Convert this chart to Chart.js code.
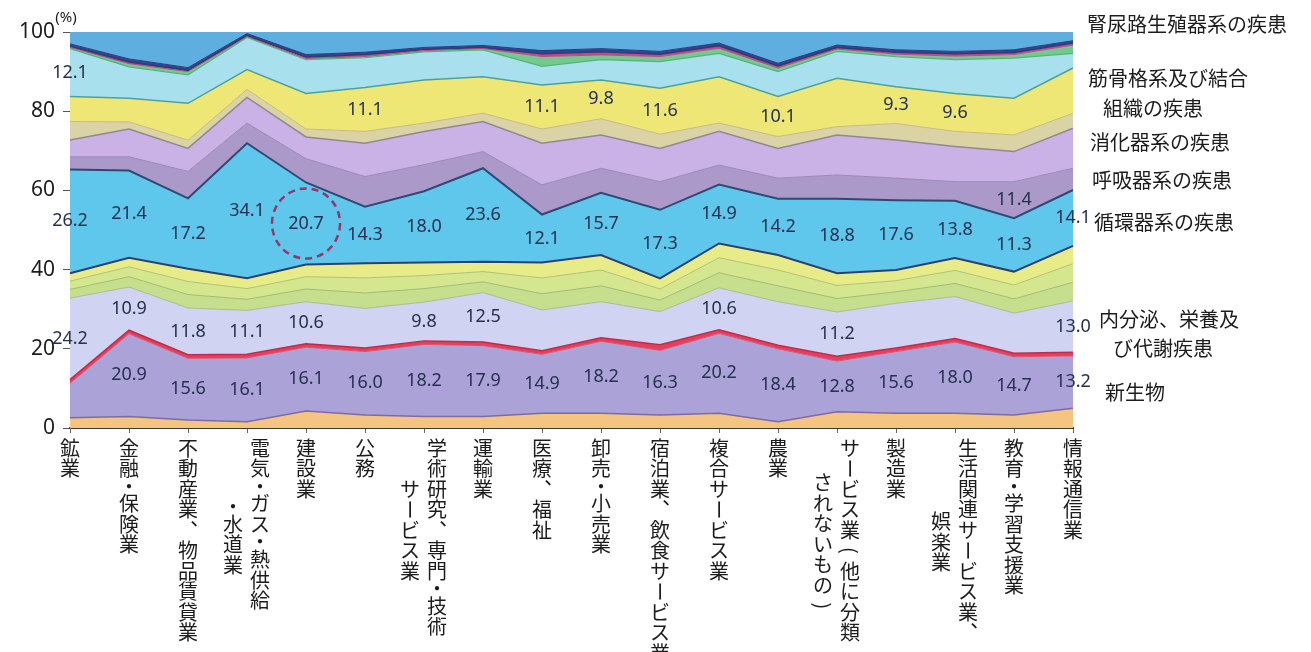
<!DOCTYPE html>
<html lang="ja">
<head>
<meta charset="utf-8">
<title>業種別 疾病構成</title>
<script src="https://cdn.jsdelivr.net/npm/chart.js@4.4.1/dist/chart.umd.min.js"></script>
<style>
    html, body { margin: 0; padding: 0; background: #fff; }
    #wrap { width: 1311px; height: 652px; }
</style>
</head>
<body>
<div id="wrap"><canvas id="chart" width="1311" height="652"></canvas></div>
<script>

// categories
const industries = [
    "鉱業", "金融・保険業", "不動産業、物品賃貸業", "電気・ガス・熱供給・水道業",
    "建設業", "公務", "学術研究、専門・技術サービス業", "運輸業", "医療、福祉",
    "卸売・小売業", "宿泊業、飲食サービス業", "複合サービス業", "農業",
    "サービス業(他に分類されないもの)", "製造業", "生活関連サービス業、娯楽業",
    "教育・学習支援業", "情報通信業"
];

// vertical label columns (right column first, as in vertical Japanese)
const industryColumns = [
    ["鉱業"], ["金融・保険業"], ["不動産業、物品賃貸業"], ["電気・ガス・熱供給", "・水道業"],
    ["建設業"], ["公務"], ["学術研究、専門・技術", "サービス業"], ["運輸業"], ["医療、福祉"],
    ["卸売・小売業"], ["宿泊業、飲食サービス業"], ["複合サービス業"], ["農業"],
    ["サービス業(他に分類", "されないもの)"], ["製造業"], ["生活関連サービス業、", "娯楽業"],
    ["教育・学習支援業"], ["情報通信業"]
];

// band values (%), bottom to top
const infection   = [2.6, 2.9, 2.0, 1.6, 4.3, 3.3, 2.9, 2.9, 3.7, 3.7, 3.3, 3.7, 1.6, 4.1, 3.7, 3.7, 3.3, 5.0];
const neoplasm    = [8.7, 20.9, 15.6, 16.1, 16.1, 16.0, 18.2, 17.9, 14.9, 18.2, 16.3, 20.2, 18.4, 12.8, 15.6, 18.0, 14.7, 13.2];
const blood       = [0.9, 0.9, 0.9, 0.9, 0.9, 0.9, 0.9, 0.9, 0.9, 0.9, 1.4, 0.9, 0.9, 1.2, 0.9, 0.9, 0.9, 0.9];
const endocrine   = [20.6, 10.9, 11.8, 11.1, 10.6, 10.0, 9.8, 12.5, 10.3, 9.1, 8.4, 10.6, 11.0, 11.2, 11.3, 10.6, 10.1, 13.0];
const mental      = [2.2, 2.6, 3.4, 2.8, 3.2, 3.9, 3.4, 2.7, 4.1, 4.0, 2.9, 3.8, 4.0, 3.4, 2.9, 3.3, 3.6, 4.7];
const nervous     = [2.1, 2.5, 3.3, 2.7, 3.1, 3.8, 3.3, 2.6, 4.0, 4.0, 2.8, 3.8, 4.0, 3.3, 2.8, 3.3, 3.5, 4.7];
const eyeEar      = [2.0, 2.3, 3.2, 2.6, 3.1, 3.7, 3.3, 2.5, 3.9, 3.8, 2.7, 3.6, 3.8, 3.1, 2.7, 3.1, 3.4, 4.5];
const circulatory = [26.2, 22.0, 17.8, 34.1, 20.7, 14.3, 18.0, 23.6, 12.1, 15.7, 17.3, 14.9, 14.2, 18.8, 17.6, 14.5, 13.5, 14.1];
const respiratory = [3.2, 3.5, 6.8, 5.1, 6.0, 7.6, 6.7, 4.2, 7.5, 6.2, 7.1, 4.9, 5.2, 6.0, 5.6, 4.8, 9.2, 5.5];
const digestive   = [4.2, 7.0, 5.8, 6.5, 5.5, 8.4, 8.4, 7.6, 10.5, 8.4, 8.4, 8.5, 7.5, 10.1, 9.6, 8.9, 7.6, 10.1];
const skin        = [4.7, 1.8, 2.1, 2.0, 2.0, 3.0, 2.1, 2.1, 3.6, 4.1, 3.6, 2.1, 3.0, 2.1, 4.2, 3.8, 4.2, 3.8];
const musculo     = [6.3, 6.0, 9.3, 5.0, 9.0, 11.1, 10.9, 9.2, 11.1, 9.8, 11.6, 11.7, 10.1, 12.2, 9.3, 9.6, 9.3, 11.4];
const injury      = [12.1, 7.9, 7.2, 8.1, 8.5, 7.5, 7.1, 6.8, 4.7, 5.1, 6.7, 5.9, 6.3, 6.8, 7.6, 8.5, 10.1, 3.7];
const otherA      = [0.3, 0.8, 0.8, 0.2, 0.3, 0.3, 0.3, 0.3, 2.5, 1.2, 1.3, 1.3, 0.9, 0.6, 0.6, 0.9, 0.9, 2.1];
const otherB      = [0.3, 0.4, 0.3, 0.3, 0.4, 0.5, 0.3, 0.3, 0.7, 0.8, 0.6, 0.6, 0.5, 0.4, 0.5, 0.6, 0.5, 0.5];
const otherC      = [0.6, 0.8, 0.7, 0.5, 0.6, 0.6, 0.5, 0.5, 0.8, 0.8, 0.7, 0.7, 0.7, 0.6, 0.6, 0.6, 0.7, 0.6];
const genito      = [3.0, 6.8, 9.0, 0.4, 5.7, 5.1, 3.9, 3.4, 4.7, 4.2, 4.9, 2.8, 7.9, 3.3, 4.5, 4.9, 4.5, 2.2];

// printed values
const neoLabels   = [null, "20.9", "15.6", "16.1", "16.1", "16.0", "18.2", "17.9", "14.9", "18.2", "16.3", "20.2", "18.4", "12.8", "15.6", "18.0", "14.7", "13.2"];
const endoLabels  = ["24.2", "10.9", "11.8", "11.1", "10.6", null, "9.8", "12.5", null, null, null, "10.6", null, "11.2", null, null, null, "13.0"];
const circLabels  = ["26.2", "21.4", "17.2", "34.1", "20.7", "14.3", "18.0", "23.6", "12.1", "15.7", "17.3", "14.9", "14.2", "18.8", "17.6", "13.8", "11.3", "14.1"];
const respLabels  = [null, null, null, null, null, null, null, null, null, null, null, null, null, null, null, null, "11.4", null];
const muscLabels  = [null, null, null, null, null, "11.1", null, null, "11.1", "9.8", "11.6", null, "10.1", null, "9.3", "9.6", null, null];
const injLabels   = ["12.1", null, null, null, null, null, null, null, null, null, null, null, null, null, null, null, null, null];

const yTicks = [0, 20, 40, 60, 80, 100];

// right-hand names: text, x px, height in %
const sideNotes = [
    ["腎尿路生殖器系の疾患", 1087, 101.8],
    ["筋骨格系及び結合", 1088, 88.4],
    ["組織の疾患", 1103, 80.8],
    ["消化器系の疾患", 1090, 72.2],
    ["呼吸器系の疾患", 1092, 62.6],
    ["循環器系の疾患", 1094, 51.8],
    ["内分泌、栄養及", 1099, 27.3],
    ["び代謝疾患", 1113, 20.2],
    ["新生物", 1105, 9.1]
];


const bands = [
    { name: "感染症",   data: infection,   fill: "#f5c480", line: "#7d6aa6", width: 1.5 },
    { name: "新生物",   data: neoplasm,    fill: "#aba3d7", line: "#e0506a", width: 1 },
    { name: "血液",     data: blood,       fill: "#e2405e", line: "#c8284a", width: 1.5 },
    { name: "内分泌、栄養及び代謝疾患", data: endocrine, fill: "#d0d3f2", line: "rgba(150,175,120,0.7)", width: 1 },
    { name: "精神",     data: mental,      fill: "#c6df8f", line: "#a3bb74", width: 1 },
    { name: "神経",     data: nervous,     fill: "#d4e78f", line: "#afc279", width: 1 },
    { name: "眼・耳",   data: eyeEar,      fill: "#e8ec88", line: "#2f3f6f", width: 2 },
    { name: "循環器系の疾患", data: circulatory, fill: "#5fc6ec", line: "#2f4a72", width: 2 },
    { name: "呼吸器系の疾患", data: respiratory, fill: "#ab99c9", line: "#9e88bb", width: 1 },
    { name: "消化器系の疾患", data: digestive,   fill: "#cab1e6", line: "#8e8a90", width: 1.5 },
    { name: "皮膚",     data: skin,        fill: "#dbd3a6", line: "#c6bb86", width: 1 },
    { name: "筋骨格系及び結合組織の疾患", data: musculo, fill: "#efe775", line: "#4aa39a", width: 1.5 },
    { name: "損傷",     data: injury,      fill: "#a9e0ee", line: "#4fb874", width: 1.2 },
    { name: "その他A",  data: otherA,      fill: "#74c98f", line: "#c04888", width: 1 },
    { name: "その他B",  data: otherB,      fill: "#c04a8a", line: "#2c3c7c", width: 1.5 },
    { name: "その他C",  data: otherC,      fill: "#34468a", line: "#2c3c7c", width: 1 },
    { name: "腎尿路生殖器系の疾患", data: genito, fill: "#5eaee0", line: "rgba(0,0,0,0)", width: 0 }
];

const labelSets = [
    { band: 1,  texts: neoLabels },
    { band: 3,  texts: endoLabels },
    { band: 7,  texts: circLabels },
    { band: 8,  texts: respLabels },
    { band: 11, texts: muscLabels },
    { band: 12, texts: injLabels }
];


const JP_FONT  = '"Noto Sans CJK JP", "Noto Sans", sans-serif';
const NUM_FONT = '"Noto Sans", "DejaVu Sans", sans-serif';

// one column of vertical text; the middle dot gets a shorter cell
function drawVerticalText(ctx, text, x, y0, pitch){
    const rotated = "ー()（）";
    let cursor = y0 - pitch / 2;
    [...text].forEach(ch => {
        const cell = ch === "・" ? pitch * 0.72 : pitch;
        ctx.save();
        ctx.translate(x, cursor + cell / 2);
        if(rotated.includes(ch)) ctx.rotate(Math.PI / 2);
        ctx.fillText(ch === "、" ? "︑" : ch, 0, 0);
        ctx.restore();
        cursor += cell;
    });
}

const overlay = {
    id: "overlay",
    afterDatasetsDraw(chart){
        const ctx = chart.ctx;

        ctx.save();
        ctx.font = `18px ${NUM_FONT}`;
        ctx.fillStyle = "#26314f";
        ctx.textAlign = "center";
        ctx.textBaseline = "middle";

        labelSets.forEach(set => {
            const top = chart.getDatasetMeta(set.band).data;
            const below = chart.getDatasetMeta(set.band - 1).data;
            set.texts.forEach((t, i) => {
                if(!t) return;
                const my = (top[i].y + below[i].y) / 2;
                ctx.fillText(t, top[i].x, my);
            });
        });

        // dashed circle around the 建設業 circulatory value
        const c = chart.getDatasetMeta(7).data[4];
        const cb = chart.getDatasetMeta(6).data[4];
        ctx.beginPath();
        ctx.setLineDash([7, 5]);
        ctx.lineWidth = 2.5;
        ctx.strokeStyle = "#9a3568";
        ctx.ellipse(c.x, (c.y + cb.y) / 2, 34, 35, 0, 0, Math.PI * 2);
        ctx.stroke();
        ctx.restore();
    },
    afterDraw(chart){
        const ctx = chart.ctx;
        const x = chart.scales.x;
        const y = chart.scales.y;

        ctx.save();
        ctx.fillStyle = "#1c1c1c";

        // (%) unit
        ctx.font = `15px ${NUM_FONT}`;
        ctx.textAlign = "center";
        ctx.textBaseline = "middle";
        ctx.fillText("(%)", 66, 18);

        // vertical category labels
        ctx.font = `20px ${JP_FONT}`;
        const pitch = 20.5;
        const startY = 448;
        const drop = { 3: 3, 6: 2, 13: 1.7, 15: 3.6 };
        industryColumns.forEach((cols, i) => {
            const px = x.getPixelForValue(i);
            if(cols.length === 1){
                drawVerticalText(ctx, cols[0], px, startY, pitch);
            } else {
                drawVerticalText(ctx, cols[0], px + 13, startY, pitch);
                drawVerticalText(ctx, cols[1], px - 14, startY + drop[i] * pitch, pitch);
            }
        });

        // disease names on the right
        ctx.textAlign = "left";
        sideNotes.forEach(([text, px, pct]) => {
            ctx.fillText(text, px, y.getPixelForValue(pct));
        });
        ctx.restore();
    }
};


new Chart(document.getElementById("chart"), {
    type: "line",
    data: {
        labels: industries,
        datasets: bands.map((b, i) => ({
            label: b.name,
            data: b.data,
            backgroundColor: b.fill,
            borderColor: b.line,
            borderWidth: b.width,
            fill: i === 0 ? "origin" : "-1",
            pointRadius: 0,
            pointHoverRadius: 0,
            tension: 0
        }))
    },
    options: {
        responsive: false,
        devicePixelRatio: 1,
        animation: false,
        events: [],
        layout: { padding: { top: 32, right: 238, left: 0, bottom: 0 } },
        plugins: {
            legend: { display: false },
            tooltip: { enabled: false }
        },
        scales: {
            x: {
                offset: false,
                grid: { display: true, drawOnChartArea: false, drawTicks: true, tickLength: 5, color: "#666" },
                border: { display: true, color: "#3a3a3a", width: 2 },
                ticks: { callback: () => "", autoSkip: false, maxRotation: 0 },
                afterFit(scale){ scale.height = 224; }
            },
            y: {
                stacked: true,
                min: 0,
                max: 100,
                afterBuildTicks(scale){ scale.ticks = yTicks.map(v => ({ value: v })); },
                grid: { display: true, drawOnChartArea: false, drawTicks: true, tickLength: 7, color: "#555" },
                border: { display: true, color: "#8a8a8a", width: 1 },
                ticks: {
                    padding: 8,
                    color: "#1c1c1c",
                    font: { family: NUM_FONT, size: 21 }
                },
                afterFit(scale){ scale.width = 70; }
            }
        }
    },
    plugins: [overlay]
});

</script>
</body>
</html>
